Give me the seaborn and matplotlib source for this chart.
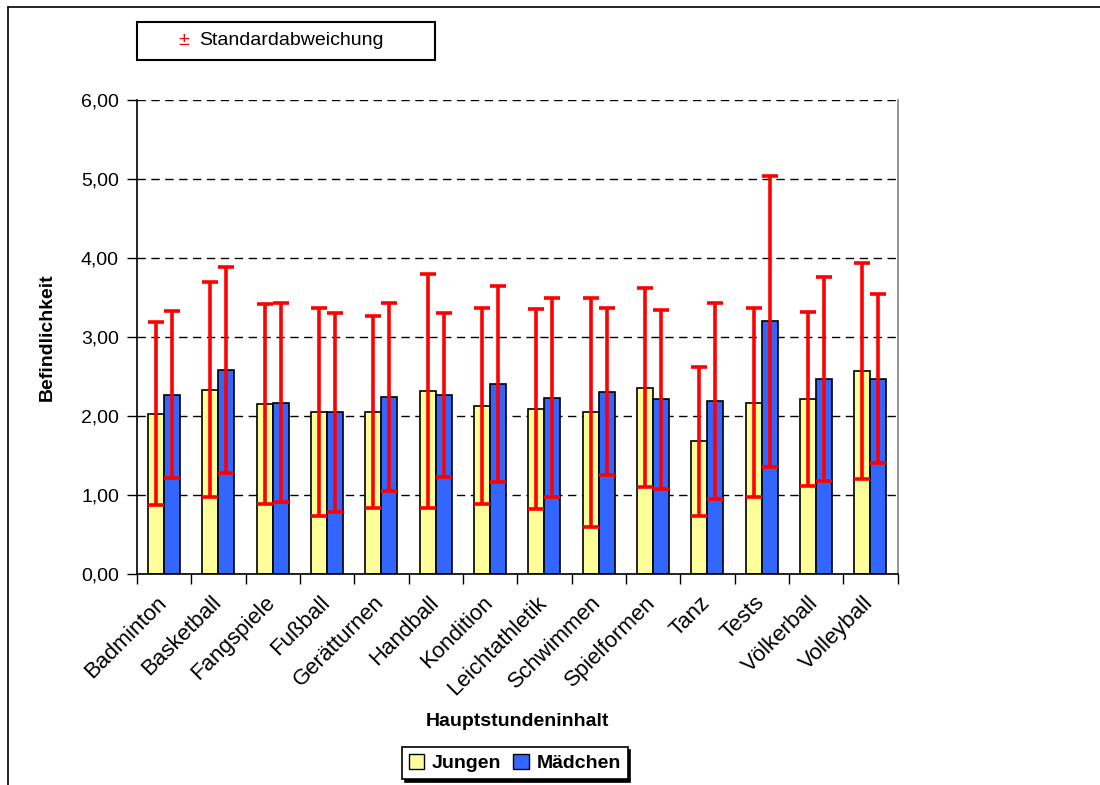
import matplotlib
matplotlib.use("Agg")
import matplotlib.pyplot as plt
import matplotlib.transforms as mtransforms
from matplotlib.lines import Line2D
from matplotlib.patches import Rectangle
from matplotlib.ticker import FuncFormatter, MultipleLocator
import numpy as np
import pandas as pd
import seaborn as sns

# ── data ─────────────────────────────────────────────────────
sports = ["Badminton", "Basketball", "Fangspiele", "Fußball", "Gerätturnen",
          "Handball", "Kondition", "Leichtathletik", "Schwimmen",
          "Spielformen", "Tanz", "Tests", "Völkerball", "Volleyball"]
jungen_mean = [2.03, 2.33, 2.15, 2.05, 2.05, 2.32, 2.13, 2.09, 2.05, 2.36,
               1.68, 2.17, 2.22, 2.57]
jungen_sd = [1.16, 1.36, 1.27, 1.32, 1.22, 1.48, 1.24, 1.27, 1.45, 1.26,
             0.94, 1.20, 1.10, 1.37]
maedchen_mean = [2.27, 2.58, 2.17, 2.05, 2.24, 2.27, 2.41, 2.23, 2.31, 2.21,
                 2.19, 3.20, 2.47, 2.47]
maedchen_sd = [1.06, 1.30, 1.26, 1.26, 1.19, 1.04, 1.24, 1.26, 1.06, 1.13,
               1.24, 1.84, 1.29, 1.07]
groups = ["Jungen", "Mädchen"]
colors = {"Jungen": "#FFFF99", "Mädchen": "#3366FF"}

df = pd.DataFrame({
    "sport": sports * 2,
    "gruppe": ["Jungen"] * len(sports) + ["Mädchen"] * len(sports),
    "wert": jungen_mean + maedchen_mean,
    "sd": jungen_sd + maedchen_sd,
})

sns.set_theme(style="white")
plt.rcParams["font.family"] = ["Liberation Sans", "DejaVu Sans"]
plt.rcParams["text.color"] = "black"
plt.rcParams["axes.labelcolor"] = "black"
plt.rcParams["xtick.color"] = "black"
plt.rcParams["ytick.color"] = "black"

fig = plt.figure(figsize=(11, 7.85), dpi=100)
ax = fig.add_axes([0.1245, 0.2688, 0.6915, 0.6038])

sns.barplot(data=df, x="sport", y="wert", hue="gruppe", order=sports,
            hue_order=groups, palette=colors, width=0.59, edgecolor="black",
            linewidth=1.2, saturation=1, errorbar=None, legend=False, ax=ax)

# error bars on top of each bar container
for cont, g in zip(ax.containers, groups):
    sd = df.loc[df["gruppe"] == g, "sd"].values
    xs = [p.get_x() + p.get_width() / 2 for p in cont.patches]
    ys = [p.get_height() for p in cont.patches]
    ax.errorbar(xs, ys, yerr=sd, fmt="none", ecolor="#FF0000",
                elinewidth=2.6, capsize=6, capthick=2.6, zorder=5)

# axes styling
ax.set_ylim(0, 6)
ax.set_xlim(-0.5, len(sports) - 0.5)
ax.yaxis.set_major_locator(MultipleLocator(1))
ax.yaxis.set_major_formatter(FuncFormatter(lambda v, _: f"{v:.2f}".replace(".", ",")))
ax.grid(axis="y", color="black", linestyle=(0, (6, 4)), linewidth=1)
ax.set_axisbelow(True)

ax.set_xticks(np.arange(len(sports)))
ax.set_xticks(np.arange(len(sports) + 1) - 0.5, minor=True)
ax.set_xticklabels(sports, rotation=45, ha="right", rotation_mode="anchor",
                   fontsize=16)
ax.tick_params(axis="x", which="major", length=0, pad=13)
ax.tick_params(axis="x", which="minor", length=7, width=1, color="black",
               direction="out", bottom=True)
ax.tick_params(axis="y", length=7, width=1, color="black", direction="out",
               left=True, labelsize=14, pad=6)
shift = mtransforms.ScaledTranslation(-8 / 100, 0, fig.dpi_scale_trans)
for lab in ax.get_xticklabels():
    lab.set_transform(lab.get_transform() + shift)

for side in ["left", "bottom"]:
    ax.spines[side].set_color("black")
    ax.spines[side].set_linewidth(1.2)
ax.spines["right"].set_color("#808080")
ax.spines["right"].set_linewidth(1.2)
ax.spines["top"].set_visible(False)

ax.set_xlabel("Hauptstundeninhalt", fontsize=14, fontweight="bold", labelpad=10)
ax.set_ylabel("Befindlichkeit", fontsize=14, fontweight="bold", labelpad=18)

# top box: ± Standardabweichung
fig.patches.append(Rectangle((0.1245, 0.9236), 0.2705, 0.0484,
                             transform=fig.transFigure, facecolor="white",
                             edgecolor="black", linewidth=1.5))
fig.text(0.167, 0.9478, "±", color="#FF0000", fontsize=14, va="center", ha="center")
fig.text(0.181, 0.9478, "Standardabweichung", color="black", fontsize=14,
         va="center", ha="left")

# bottom legend
handles = [Rectangle((0, 0), 1, 1, facecolor=colors[g], edgecolor="black",
                     linewidth=1) for g in groups]
leg = fig.legend(handles, groups, loc="center", bbox_to_anchor=(0.468, 0.028),
                 ncol=2, frameon=True, fancybox=False, edgecolor="black",
                 shadow={"color": "black", "alpha": 1},
                 prop={"weight": "bold", "size": 14},
                 handlelength=0.8, handleheight=0.8, handletextpad=0.4,
                 columnspacing=0.6, borderpad=0.35, borderaxespad=0)
leg.get_frame().set_linewidth(1.2)

# outer frame lines (top and left)
fig.add_artist(Line2D([0.007, 1.0], [0.991, 0.991], color="black", linewidth=1.2,
                      transform=fig.transFigure))
fig.add_artist(Line2D([0.007, 0.007], [0.0, 0.991], color="black", linewidth=1.2,
                      transform=fig.transFigure))

fig.savefig("out.png", dpi=100)
